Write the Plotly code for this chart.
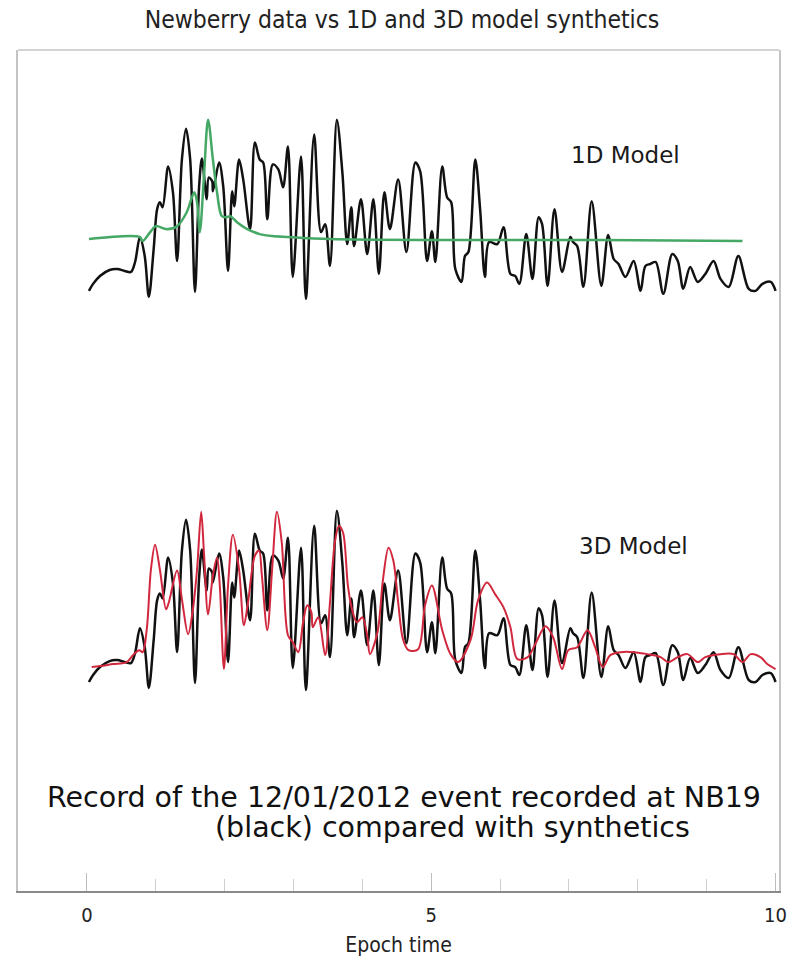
import plotly.graph_objects as go

# ---- NB19 record of the 12/01/2012 event (black) -------------------------
data_t = [0.03, 0.09, 0.19, 0.33, 0.44, 0.55, 0.64, 0.70, 0.77, 0.84, 0.90, 0.97,
          1.02, 1.06, 1.10, 1.18, 1.25, 1.31, 1.38, 1.44, 1.50, 1.57, 1.63, 1.67,
          1.72, 1.74, 1.77, 1.82, 1.83, 1.92, 1.98, 2.05, 2.11, 2.14, 2.21, 2.27,
          2.37, 2.44, 2.51, 2.56, 2.62, 2.70, 2.78, 2.85, 2.92, 2.99, 3.11, 3.18,
          3.30, 3.40, 3.46, 3.53, 3.63, 3.71, 3.78, 3.84, 3.88, 3.98, 4.07, 4.16,
          4.24, 4.32, 4.40, 4.52, 4.64, 4.77, 4.84, 4.94, 5.01, 5.06, 5.16, 5.23,
          5.29, 5.35, 5.44, 5.49, 5.54, 5.64, 5.71, 5.78, 5.84, 5.96, 6.05, 6.15,
          6.22, 6.28, 6.38, 6.47, 6.56, 6.61, 6.69, 6.79, 6.90, 7.02, 7.06, 7.12,
          7.21, 7.33, 7.47, 7.57, 7.65, 7.72, 7.82, 7.94, 8.04, 8.11, 8.18, 8.26,
          8.37, 8.50, 8.58, 8.66, 8.76, 8.87, 8.98, 9.10, 9.20, 9.32, 9.46, 9.61,
          9.71, 9.81, 9.93, 10.00]
data_amp = [-0.37, -0.30, -0.22, -0.16, -0.15, -0.17, -0.18, -0.08, 0.17, -0.02, -0.43, 0.05,
            0.45, 0.52, 0.47, 0.88, 0.62, -0.07, 0.95, 1.26, 0.95, -0.38, 0.68, 0.96,
            0.65, 0.55, 0.77, 0.73, 0.63, 0.92, 0.68, -0.17, 0.63, 0.48, 0.95, 0.75,
            0.25, 1.12, 0.95, 0.92, 0.35, 0.90, 0.85, 0.67, 1.08, -0.23, 0.98, -0.45,
            1.20, 0.22, 0.30, -0.12, 1.35, 0.82, 0.10, 0.47, 0.08, 0.55, 0.00, 0.55,
            -0.20, 0.62, 0.25, 0.75, 0.02, 0.92, 0.83, -0.07, 0.23, -0.08, 0.88, 0.57,
            0.52, -0.15, -0.28, -0.02, 0.02, 0.95, 0.45, -0.23, 0.12, 0.10, 0.27, -0.20,
            -0.22, -0.30, 0.20, -0.25, 0.37, 0.30, -0.32, 0.45, -0.18, 0.17, 0.12, 0.08,
            -0.33, 0.53, -0.32, 0.19, -0.05, -0.10, -0.23, -0.07, -0.37, -0.12, -0.10, -0.08,
            -0.40, 0.00, -0.07, -0.35, -0.13, -0.28, -0.20, -0.07, -0.25, -0.33, -0.02, -0.35,
            -0.37, -0.30, -0.28, -0.37]

# ---- 1D model synthetic (green) ------------------------------------------
syn1d_t = [0.03, 0.77, 0.81, 0.92, 1.00, 1.16, 1.31, 1.45, 1.56, 1.60, 1.64, 1.70,
           1.76, 1.83, 1.89, 1.96, 2.03, 2.08, 2.18, 2.33, 2.51, 2.69, 2.92, 3.53,
           5.06, 7.46, 9.52]
syn1d_amp = [0.01, 0.03, -0.01, 0.08, 0.14, 0.11, 0.14, 0.28, 0.48, 0.38, 0.08, 0.64,
             1.21, 0.81, 0.48, 0.24, 0.23, 0.24, 0.18, 0.11, 0.06, 0.04, 0.03, 0.01,
             0.00, 0.00, -0.01]

# ---- 3D model synthetic (red) --------------------------------------------
syn3d_t = [0.07, 0.19, 0.38, 0.58, 0.67, 0.76, 0.81, 0.87, 0.93, 0.99, 1.06, 1.15,
           1.19, 1.31, 1.38, 1.47, 1.54, 1.60, 1.66, 1.70, 1.76, 1.83, 1.89, 1.93,
           1.99, 2.05, 2.12, 2.21, 2.28, 2.34, 2.44, 2.50, 2.54, 2.62, 2.69, 2.76,
           2.83, 2.92, 2.99, 3.07, 3.14, 3.20, 3.26, 3.28, 3.36, 3.46, 3.53, 3.60,
           3.66, 3.72, 3.79, 3.85, 3.92, 4.00, 4.07, 4.11, 4.22, 4.30, 4.38, 4.45,
           4.52, 4.59, 4.67, 4.81, 4.91, 5.01, 5.16, 5.28, 5.39, 5.57, 5.68, 5.81,
           5.93, 6.05, 6.15, 6.25, 6.40, 6.51, 6.66, 6.77, 6.90, 6.99, 7.12, 7.27,
           7.38, 7.49, 7.60, 7.75, 7.94, 8.14, 8.33, 8.44, 8.58, 8.72, 8.87, 8.98,
           9.20, 9.39, 9.52, 9.64, 9.78, 9.88, 10.00]
syn3d_amp = [-0.02, -0.01, 0.01, 0.03, 0.10, 0.15, 0.13, 0.36, 0.96, 1.21, 0.96, 0.56,
             0.63, 0.95, 0.66, 0.31, 0.56, 0.96, 1.54, 1.13, 0.51, 0.90, 1.08, 0.80,
             -0.04, 0.80, 1.31, 0.96, 0.40, 0.63, 1.10, 1.15, 0.91, 0.35, 0.96, 1.54,
             1.23, 0.30, 0.23, 0.13, 0.43, 0.60, 0.53, 0.38, 0.48, 0.10, 0.63, 1.23,
             1.40, 1.33, 0.80, 0.56, 0.43, 0.48, 0.30, 0.11, 0.33, 0.86, 1.18, 1.05,
             0.63, 0.26, 0.15, 0.16, 0.60, 0.80, 0.35, 0.11, 0.03, 0.25, 0.65, 0.83,
             0.71, 0.58, 0.38, 0.06, 0.08, 0.21, 0.39, 0.28, -0.04, 0.15, 0.18, 0.35,
             0.18, -0.02, 0.10, 0.13, 0.13, 0.11, 0.08, 0.03, 0.08, 0.11, 0.03, 0.08,
             0.11, 0.11, 0.03, 0.11, 0.08, 0.01, -0.04]

tick_vals = [0, 5, 10]
tick_text = ["0", "5", "10"]

# vertical placement of the two comparison panels (trace offsets)
TOP_DATA, TOP_SYN = 6.40, 6.54
BOT_DATA, BOT_SYN = 2.47, 2.27

BLACK = "#111111"
GREEN = "#45a865"
RED = "#d1283e"

fig = go.Figure()


def add_trace(t, amp, offset, color, width):
    fig.add_trace(go.Scatter(
        x=t, y=[offset + a for a in amp], mode="lines",
        line=dict(color=color, width=width, shape="spline", smoothing=0.9),
        hoverinfo="skip", showlegend=False))


add_trace(data_t, data_amp, TOP_DATA, BLACK, 2.5)
add_trace(syn1d_t, syn1d_amp, TOP_SYN, GREEN, 2.5)
add_trace(data_t, data_amp, BOT_DATA, BLACK, 2.5)
add_trace(syn3d_t, syn3d_amp, BOT_SYN, RED, 2.0)

NARROW = "DejaVu Sans Condensed, Liberation Sans"

fig.update_layout(
    width=804, height=965,
    margin=dict(l=18, r=25, t=50, b=70),
    paper_bgcolor="white", plot_bgcolor="white",
    title=dict(text="Newberry data vs 1D and 3D model synthetics",
               x=0.5, xanchor="center", y=1 - 19 / 965, yanchor="middle",
               font=dict(family="DejaVu Sans Condensed, Open Sans", size=24.5, color="#222222")),
    xaxis=dict(range=[-1.0, 10.05], showgrid=False, zeroline=False,
               showline=True, linecolor="#8a8a8a", linewidth=1.5,
               ticks="inside", ticklen=18, tickcolor="#bdbdbd", tickwidth=1,
               tickvals=tick_vals, ticktext=tick_text, ticklabelstandoff=5,
               minor=dict(ticks="inside", dtick=1, tick0=0, ticklen=12,
                          tickcolor="#cfcfcf", tickwidth=1),
               tickfont=dict(family=NARROW, size=20, color="#222222"),
               title=dict(text="Epoch time", standoff=12,
                          font=dict(family=NARROW, size=21, color="#222222"))),
    yaxis=dict(range=[0, 8.45], showgrid=False, zeroline=False,
               showticklabels=False, ticks="", showline=True, mirror=True,
               linecolor="#c4c4c4", linewidth=1.5),
    shapes=[dict(type="line", xref="paper", yref="paper", x0=0, x1=1, y0=1, y1=1,
                 line=dict(color="#c4c4c4", width=1.5))],
)

label_font = dict(family="DejaVu Sans", size=23, color="#1a1a1a")
fig.add_annotation(text="1D Model", x=7.82, y=TOP_SYN + 0.86, xref="x", yref="y",
                   showarrow=False, font=label_font)
fig.add_annotation(text="3D Model", x=7.94, y=BOT_SYN + 1.20, xref="x", yref="y",
                   showarrow=False, font=label_font)

caption_font = dict(family="DejaVu Sans", size=28.5, color="#111111")
fig.add_annotation(text="Record of the 12/01/2012 event recorded at NB19",
                   x=(404.5 - 18) / 761, y=0.111, xref="paper", yref="paper",
                   xanchor="center", yanchor="middle", showarrow=False, font=caption_font)
fig.add_annotation(text="(black) compared with synthetics",
                   x=(452 - 18) / 761, y=0.0757, xref="paper", yref="paper",
                   xanchor="center", yanchor="middle", showarrow=False, font=caption_font)

fig.write_html("out.html")
